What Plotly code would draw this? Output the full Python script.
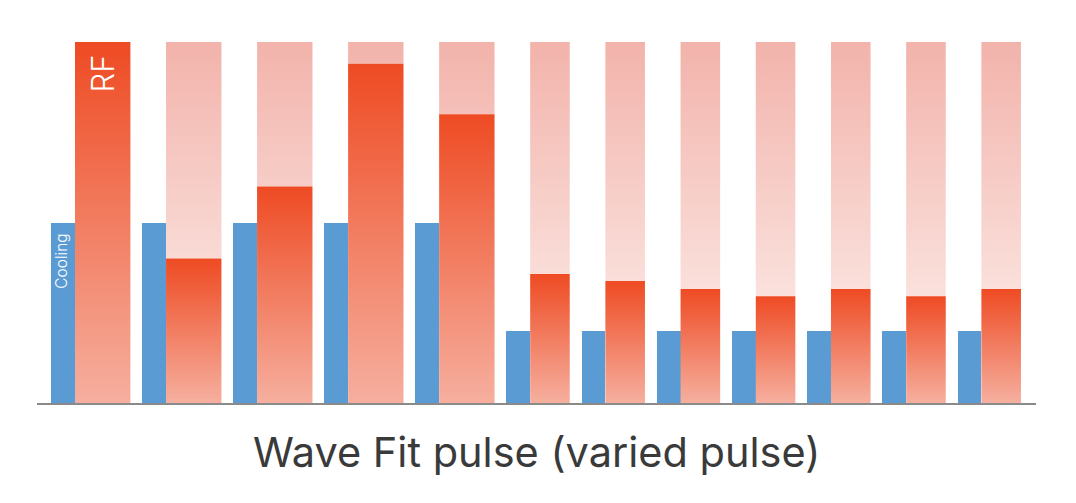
import plotly.graph_objects as go

# ---- data -------------------------------------------------------------
groups = list(range(1, 13))
cooling_duration = [3, 3, 3, 3, 3, 3, 3, 3, 3, 3, 3, 3]
rf_duration = [7, 7, 7, 7, 7, 5, 5, 5, 5, 5, 5, 5]
pause = 1.5
cooling_level = [0.5, 0.5, 0.5, 0.5, 0.5, 0.2, 0.2, 0.2, 0.2, 0.2, 0.2, 0.2]
rf_level = [1.0, 0.4, 0.6, 0.94, 0.8, 0.357, 0.338, 0.316, 0.296, 0.316, 0.296, 0.316]
rf_max = 1.0
title_text = "Wave Fit pulse (varied pulse)"

# ---- styles -----------------------------------------------------------
BLUE = "#5B9BD4"
RF_TOP = "#EE4B23"
RF_BOTTOM = "#F6AF9F"
BG_TOP = "#F2B3AB"
BG_BOTTOM = "#FEF4F1"

# ---- positions derived from the durations ----------------------------
cool_start, rf_start = [], []
t = 0.0
for cd, rd in zip(cooling_duration, rf_duration):
    cool_start.append(t)
    rf_start.append(t + cd)
    t += cd + rd + pause
total = t - pause

fig = go.Figure()

# background (full-scale) RF envelope
for i in range(len(groups)):
    x0, x1 = rf_start[i], rf_start[i] + rf_duration[i]
    fig.add_trace(go.Scatter(
        x=[x0, x1, x1, x0, x0],
        y=[rf_level[i], rf_level[i], rf_max, rf_max, rf_level[i]],
        mode="lines", line=dict(width=0), fill="toself",
        fillgradient=dict(type="vertical", start=0, stop=rf_max,
                          colorscale=[[0, BG_BOTTOM], [1, BG_TOP]]),
        hoverinfo="skip", showlegend=False))

# RF pulses
for i in range(len(groups)):
    x0, x1 = rf_start[i], rf_start[i] + rf_duration[i]
    fig.add_trace(go.Scatter(
        x=[x0, x1, x1, x0, x0],
        y=[0, 0, rf_level[i], rf_level[i], 0],
        mode="lines", line=dict(width=0), fill="toself",
        fillgradient=dict(type="vertical", start=0, stop=rf_level[i],
                          colorscale=[[0, RF_BOTTOM], [1, RF_TOP]]),
        hoverinfo="skip", showlegend=False))

# Cooling
fig.add_trace(go.Bar(
    x=[s + d / 2 for s, d in zip(cool_start, cooling_duration)],
    y=cooling_level, width=cooling_duration,
    marker=dict(color=BLUE, line=dict(width=0)),
    hoverinfo="skip", showlegend=False))

fig.add_annotation(
    x=rf_start[0] + rf_duration[0] / 2, y=0.912, xref="x", yref="y",
    text="RF", textangle=-90, showarrow=False,
    font=dict(family="Inter", size=31, color="white", weight=300))
fig.add_annotation(
    x=cool_start[0] + cooling_duration[0] / 2 - 0.2, y=0.393, xref="x", yref="y",
    text="Cooling", textangle=-90, showarrow=False,
    font=dict(family="Inter", size=15.5, color="white", weight=300))
fig.add_annotation(
    x=0.5, y=-0.136, xref="paper", yref="paper", yanchor="middle",
    text=title_text, showarrow=False,
    font=dict(family="Inter", size=41.5, color="#3a3a3a"))

fig.update_layout(
    width=1076, height=503,
    margin=dict(l=37, r=40, t=42, b=100),
    paper_bgcolor="white", plot_bgcolor="white",
    bargap=0,
    xaxis=dict(range=[-1.8, total + 1.9], showline=True, linecolor="#8a8a8a",
               linewidth=2, showgrid=False, zeroline=False, showticklabels=False,
               ticks="", fixedrange=True),
    yaxis=dict(range=[0, 1], visible=False, showgrid=False, zeroline=False,
               fixedrange=True),
)

fig.write_html("out.html")
